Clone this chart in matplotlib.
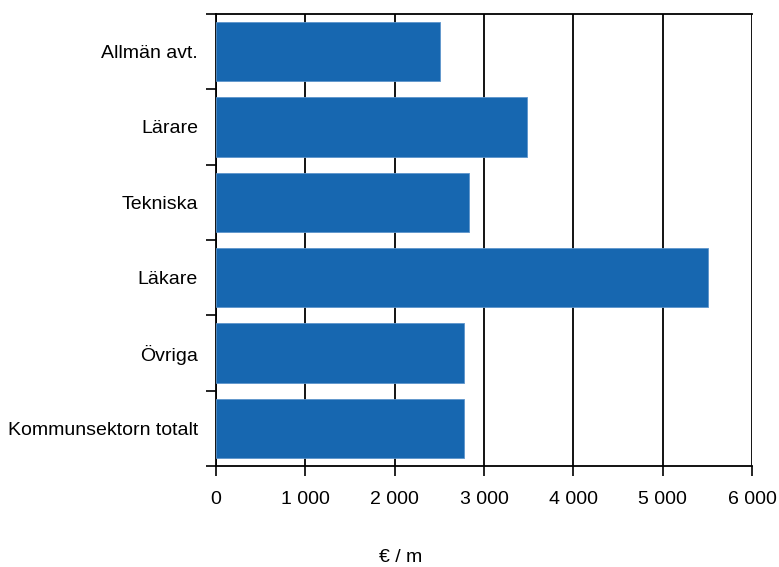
import matplotlib
matplotlib.use("Agg")
import matplotlib.pyplot as plt
import numpy as np

# data (euro per month)
categories = ["Allmän avt.", "Lärare", "Tekniska", "Läkare", "Övriga", "Kommunsektorn totalt"]
values = [2510, 3480, 2830, 5510, 2780, 2780]
xticks = [0, 1000, 2000, 3000, 4000, 5000, 6000]
xticklabels = ["0", "1 000", "2 000", "3 000", "4 000", "5 000", "6 000"]

plt.rcParams['font.family'] = ['Liberation Sans', 'DejaVu Sans']

fig = plt.figure(figsize=(7.79, 5.67), dpi=100)
ax = fig.add_axes([216/779, 1-466/567, (752-216)/779, (466-14)/567])

y = np.arange(len(categories))
ax.barh(y, values, height=0.79, color="#1767b0", edgecolor="#5d95cc", linewidth=0.6, zorder=3)

ax.set_xlim(0, 6000)
ax.set_ylim(len(categories) - 0.5, -0.5)

ax.set_xticks(xticks)
ax.set_xticklabels(xticklabels, fontsize=14)
ax.tick_params(axis="x", direction="out", length=7, width=1.2, pad=11, colors="black")

ax.set_yticks(y)
ax.set_yticklabels(categories, fontsize=14)
ax.tick_params(axis="y", which="major", length=0, pad=13)
ax.set_yticks(np.arange(-0.5, len(categories), 1.0), minor=True)
ax.tick_params(axis="y", which="minor", direction="out", length=7, width=1.2)

ax.grid(axis="x", color="black", linewidth=1.3, zorder=1)
for side in ["left", "top", "bottom", "right"]:
    ax.spines[side].set_color("black")
    ax.spines[side].set_linewidth(1.3)
ax.spines["right"].set_visible(False)

fig.text(401/779, 1-557/567, "€ / m", ha="center", va="center", fontsize=14)

fig.savefig("out.png", dpi=100)
